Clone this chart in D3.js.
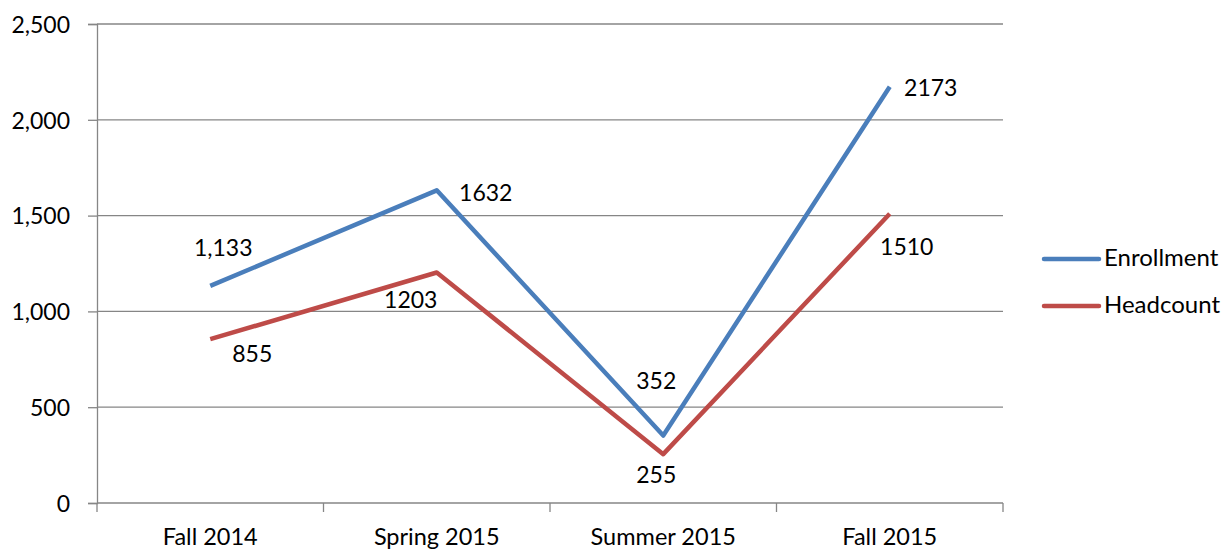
<!DOCTYPE html>
<html lang="en">
<head>
  <meta charset="UTF-8">
  <script src="https://cdn.jsdelivr.net/npm/d3@7"></script>
  <title>Enrollment and Headcount</title>
  <style>
    body { margin: 0; background: #fff; }
    text { font-family: Lato, "Open Sans", sans-serif; fill: #000; }
  </style>
</head>
<body>
  <svg width="1232" height="550" id="chart"></svg>
  <script>
    // data
    let terms = ["Fall 2014", "Spring 2015", "Summer 2015", "Fall 2015"];
    let enrollment = [1133, 1632, 352, 2173];
    let headcount = [855, 1203, 255, 1510];
    let enrollmentLabels = ["1,133", "1632", "352", "2173"];
    let headcountLabels = ["855", "1203", "255", "1510"];
    let yTicks = [0, 500, 1000, 1500, 2000, 2500];

    let svg = d3.select("#chart");

    let plotLeft = 97, plotRight = 1003, plotTop = 24, plotBottom = 503;

    let x = d3.scaleBand().domain(terms).range([plotLeft, plotRight]);
    let y = d3.scaleLinear().domain([0, 2500]).range([plotBottom, plotTop]);

    // gridlines
    svg.append("g")
      .selectAll("line")
      .data(yTicks.filter(d => d > 0))
      .enter()
      .append("line")
      .attr("x1", plotLeft).attr("x2", plotRight)
      .attr("y1", d => y(d)).attr("y2", d => y(d))
      .attr("stroke", "#868686")
      .attr("stroke-width", 1.3);

    // y axis
    let yAxis = svg.append("g")
      .attr("transform", `translate(${plotLeft},0)`)
      .call(d3.axisLeft(y).tickValues(yTicks).tickSize(9).tickPadding(18).tickFormat(d3.format(",")));
    yAxis.select(".domain").attr("stroke", "#868686").attr("stroke-width", 1.3);
    yAxis.selectAll(".tick line").attr("stroke", "#868686").attr("stroke-width", 1.3);
    yAxis.selectAll("text").style("font-size", "23px").attr("fill", "#000").attr("dy", "0.36em");

    // x axis, ticks between categories
    let xAxis = svg.append("g").attr("transform", `translate(0,${plotBottom})`);
    xAxis.append("line")
      .attr("x1", plotLeft).attr("x2", plotRight)
      .attr("stroke", "#868686").attr("stroke-width", 1.3);
    let edges = terms.map(t => x(t)).concat([plotRight]);
    xAxis.selectAll(".edge")
      .data(edges)
      .enter()
      .append("line")
      .attr("x1", d => d).attr("x2", d => d)
      .attr("y1", 0).attr("y2", 9)
      .attr("stroke", "#868686").attr("stroke-width", 1.3);
    xAxis.selectAll(".cat")
      .data(terms)
      .enter()
      .append("text")
      .attr("x", d => x(d) + x.bandwidth() / 2)
      .attr("y", 42)
      .attr("text-anchor", "middle")
      .style("font-size", "23.5px")
      .text(d => d);

    let cx = (d, i) => x(terms[i]) + x.bandwidth() / 2;
    let line = d3.line().x(cx).y(d => y(d));

    // label offsets from each point: [dx of text centre, dy of baseline]
    let series = [
      { values: enrollment, labels: enrollmentLabels, color: "#4A7EBB", name: "Enrollment",
        off: [[13, -30], [49, 11], [-7, -47], [41, 9]] },
      { values: headcount, labels: headcountLabels, color: "#BE4B48", name: "Headcount",
        off: [[42, 23], [-26, 35], [-7, 29], [17, 41]] }
    ];

    series.forEach(s => {
      svg.append("path")
        .datum(s.values)
        .attr("d", line)
        .attr("fill", "none")
        .attr("stroke", s.color)
        .attr("stroke-width", 4.5)
        .attr("stroke-linejoin", "round");

      svg.selectAll(null)
        .data(s.values)
        .enter()
        .append("text")
        .attr("x", (d, i) => cx(d, i) + s.off[i][0])
        .attr("y", (d, i) => y(d) + s.off[i][1])
        .attr("text-anchor", "middle")
        .style("font-size", "23px")
        .text((d, i) => s.labels[i]);
    });

    // legend
    let legend = svg.append("g").attr("transform", "translate(1044,259)");
    series.forEach((s, i) => {
      let g = legend.append("g").attr("transform", `translate(0,${i * 47})`);
      g.append("line")
        .attr("x1", 0).attr("x2", 55)
        .attr("stroke", s.color).attr("stroke-width", 4.5)
        .attr("stroke-linecap", "round");
      g.append("text")
        .attr("x", 60).attr("y", 7)
        .style("font-size", "24px")
        .text(s.name);
    });
  </script>
</body>
</html>
